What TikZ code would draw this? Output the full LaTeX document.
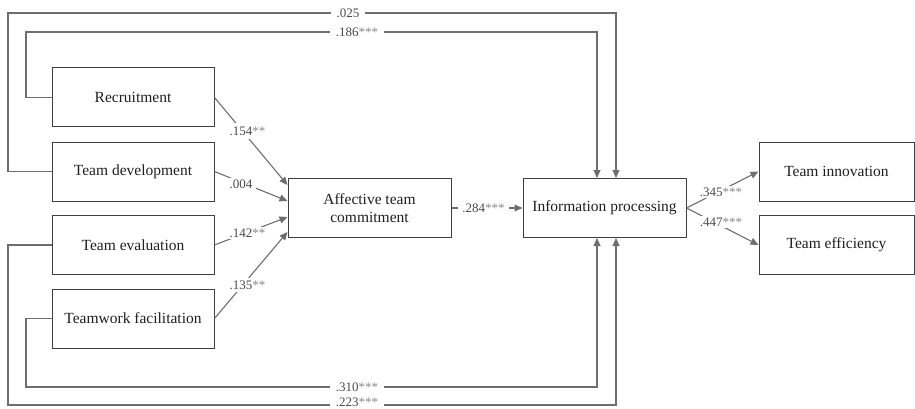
\documentclass[tikz,border=0pt]{standalone}
\usepackage{fontspec}
\setmainfont{Liberation Serif}
\usetikzlibrary{arrows.meta}
\definecolor{boxc}{HTML}{404040}
\definecolor{linec}{HTML}{6E6E6E}
\definecolor{numc}{HTML}{4A4A4A}
\definecolor{starc}{HTML}{8A8A8A}
\newcommand\coefz[2]{\textcolor{numc}{#1}\textcolor{starc}{#2}}
\begin{document}
\begin{tikzpicture}[x=1pt,y=-1pt,
 box/.style={draw=boxc, line width=1pt, minimum height=59pt, inner sep=2pt, align=center,
   font=\fontsize{15.5}{18}\selectfont, text=black!88},
 conn/.style={draw=linec, line width=1.1pt},
 arr/.style={conn, -{Triangle[length=8pt,width=7pt]}},
 lab/.style={fill=white, inner xsep=4pt, inner ysep=1.5pt, font=\fontsize{13}{14}\selectfont}]
\useasboundingbox (0,0) rectangle (915,409);

% boxes
\node[box, minimum width=162pt] (rec) at (133,97.5) {Recruitment};
\node[box, minimum width=162pt] (td)  at (133,171.5) {Team development};
\node[box, minimum width=162pt] (te)  at (133,245) {Team evaluation};
\node[box, minimum width=162pt] (tf)  at (133,318.5) {Teamwork facilitation};
\node[box, minimum width=163pt] (atc) at (369.5,208) {Affective team\\commitment};
\node[box, minimum width=163pt] (ip)  at (604.5,208) {Information processing};
\node[box, minimum width=155pt] (ti)  at (836.5,171.5) {Team innovation};
\node[box, minimum width=155pt] (tef) at (836.5,245) {Team efficiency};

% long routed paths
\draw[arr] (td.west) -| (8,13) -| ([xshift=11.5pt]ip.north);
\draw[arr] (rec.west) -| (26,32) -| ([xshift=-7.5pt]ip.north);
\draw[arr] (tf.west) -| (26,387) -| ([xshift=-7.5pt]ip.south);
\draw[arr] (te.west) -| (8,405) -| ([xshift=11.5pt]ip.south);

% direct paths
\draw[arr] (rec.east) -- ([yshift=23pt]atc.west);
\draw[arr] (td.east) -- ([yshift=7pt]atc.west);
\draw[arr] (te.east) -- ([yshift=-9pt]atc.west);
\draw[arr] (tf.east) -- ([yshift=-24pt]atc.west);
\draw[arr] (atc.east) -- (ip.west);
\draw[arr] (ip.east) -- (ti.west);
\draw[arr] (ip.east) -- (tef.west);

% labels
\node[lab, inner xsep=6pt] (l1) at (348,13) {\coefz{.025}{}};
\node[lab, inner xsep=6pt] (l2) at (357,32) {\coefz{.186}{***}};
\node[lab, inner xsep=6pt] (l3) at (357,387) {\coefz{.310}{***}};
\node[lab, inner xsep=6pt, inner ysep=0pt] (l4) at (357,402) {\coefz{.223}{***}};
\node[lab, inner ysep=4pt] (l5) at (247.5,131) {\coefz{.154}{**}};
\node[lab] (l6) at (241,184) {\coefz{.004}{}};
\node[lab] (l7) at (247.5,233) {\coefz{.142}{**}};
\node[lab, inner ysep=3pt] (l8) at (247.5,285) {\coefz{.135}{**}};
\node[lab] (l9) at (483.5,208) {\coefz{.284}{***}};
\node[lab] (l10) at (721,192) {\coefz{.345}{***}};
\node[lab] (l11) at (721,222) {\coefz{.447}{***}};
\end{tikzpicture}
\end{document}
